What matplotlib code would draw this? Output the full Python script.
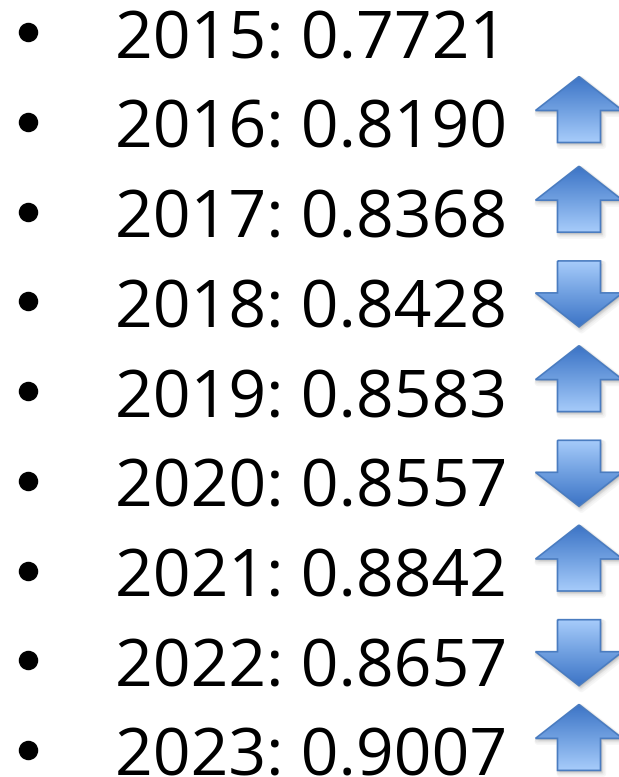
import matplotlib
matplotlib.use("Agg")
import matplotlib.pyplot as plt
from matplotlib.patches import Polygon
from matplotlib.colors import LinearSegmentedColormap
import numpy as np

years = [2015, 2016, 2017, 2018, 2019, 2020, 2021, 2022, 2023]
values = ["0.7721", "0.8190", "0.8368", "0.8428", "0.8583", "0.8557", "0.8842", "0.8657", "0.9007"]
# arrow shown beside each row: None, "up" or "down" (as in the original slide)
arrows = [None, "up", "up", "down", "up", "down", "up", "down", "up"]

W, H = 619, 777
fig = plt.figure(figsize=(W / 100, H / 100), dpi=100)
ax = fig.add_axes([0, 0, 1, 1])
ax.set_xlim(0, W)
ax.set_ylim(H, 0)
ax.axis("off")

row0 = 34.3       # vertical center of first row's digits (px)
step = 89.7       # row spacing (px)
digit_h = 48      # digit height (px)
font = "Open Sans"
fs = 47.2 / 0.714 * 72 / 100  # font size in points

cmap = LinearSegmentedColormap.from_list("arr", ["#3c74c6", "#6f9fe0", "#a6cbfa"])
edge = "#4a7cc0"


def draw_arrow(xc, yc, direction):
    hw, sw = 43.5, 21.5      # head half-width, shaft half-width
    total, head = 66, 34
    top, bot = yc - total / 2, yc + total / 2
    if direction == "up":
        pts = [(xc, top), (xc + hw, top + head), (xc + sw, top + head), (xc + sw, bot),
               (xc - sw, bot), (xc - sw, top + head), (xc - hw, top + head)]
        grad = np.linspace(0, 1, 100)[:, None]   # dark at tip (top)
    else:
        pts = [(xc - sw, top), (xc + sw, top), (xc + sw, bot - head), (xc + hw, bot - head),
               (xc, bot), (xc - hw, bot - head), (xc - sw, bot - head)]
        grad = np.linspace(1, 0, 100)[:, None]   # dark at tip (bottom)
    pts = np.array(pts)
    # soft shadow
    for k, a in enumerate([0.05, 0.05, 0.06, 0.07]):
        off = 4 - k
        sh = Polygon(pts + np.array([off * 0.6, off * 0.8]), closed=True, facecolor="#555555",
                     edgecolor="#555555", lw=off * 1.2, alpha=a, joinstyle="round", zorder=1)
        ax.add_patch(sh)
    poly = Polygon(pts, closed=True, facecolor="none", edgecolor=edge, lw=1.2, zorder=3)
    clip = Polygon(pts, closed=True, facecolor="none", edgecolor="none", transform=ax.transData)
    ax.add_patch(clip)
    im = ax.imshow(np.tile(grad, (1, 2)), cmap=cmap, vmin=0, vmax=1, aspect="auto",
                   extent=(xc - hw, xc + hw, bot, top), interpolation="bilinear", zorder=2)
    im.set_clip_path(clip)
    ax.add_patch(poly)


for i, (yr, val, arr) in enumerate(zip(years, values, arrows)):
    yc = row0 + step * i
    ax.plot([28], [yc - 2], marker="o", markersize=13, color="black", zorder=4)
    ax.text(115, yc + digit_h / 2, f"{yr}: {val}", fontsize=fs, family=font,
            ha="left", va="baseline", color="black", zorder=4)
    if arr is not None:
        off = -14.5 if arr == "up" else -9.5
        draw_arrow(579, yc + off, arr)

ax.set_xlim(0, W)
ax.set_ylim(H, 0)
fig.savefig("out.png", dpi=100, facecolor="white")
